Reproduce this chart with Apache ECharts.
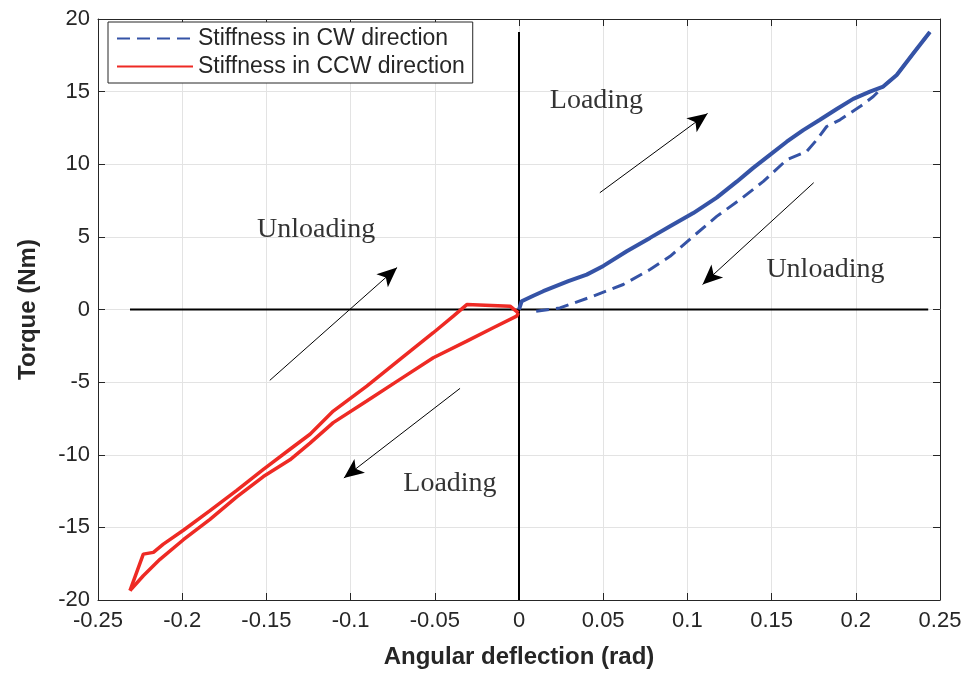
<!DOCTYPE html>
<html><head><meta charset="utf-8">
<script src="https://cdn.jsdelivr.net/npm/echarts@6/dist/echarts.min.js"></script>
<style>html,body{margin:0;padding:0;background:#fff}#c{width:972px;height:674px}</style>
</head><body><div id="c"></div>
<script>
// CW (blue) loading branch: [angle rad, torque Nm]
const cwLoading = [[0.000,0.0],[0.0016,0.57],[0.0085,0.95],[0.0144,1.26],[0.0293,1.95],[0.0402,2.4],[0.0501,3.0],[0.064,4.01],[0.0778,4.93],[0.0897,5.73],[0.1035,6.64],[0.1174,7.7],[0.1293,8.8],[0.1391,9.75],[0.149,10.65],[0.159,11.55],[0.1688,12.35],[0.1787,13.06],[0.1887,13.8],[0.1985,14.5],[0.2084,15.0],[0.2163,15.35],[0.2243,16.15],[0.2342,17.64],[0.244,19.1]];
// CW (blue) unloading branch
const cwUnloading = [[0.244,19.1],[0.2342,17.64],[0.2243,16.15],[0.2163,15.35],[0.2104,14.66],[0.2025,13.97],[0.1906,13.06],[0.1827,12.6],[0.1768,11.68],[0.1708,10.88],[0.159,10.31],[0.1451,8.82],[0.1312,7.56],[0.1174,6.41],[0.1035,5.04],[0.0897,3.66],[0.0778,2.75],[0.0619,1.72],[0.0441,0.92],[0.0243,0.11],[0.0065,-0.18]];
// CCW (red) loading branch
const ccwLoading = [[-0.0004,-0.23],[-0.0014,-0.46],[-0.0153,-1.26],[-0.031,-2.18],[-0.0509,-3.32],[-0.0707,-4.81],[-0.0904,-6.3],[-0.1103,-7.79],[-0.1241,-9.2],[-0.136,-10.35],[-0.1518,-11.5],[-0.1676,-12.9],[-0.1835,-14.45],[-0.1993,-15.85],[-0.2132,-17.2],[-0.2231,-18.33],[-0.231,-19.36]];
// CCW (red) unloading branch
const ccwUnloading = [[-0.231,-19.36],[-0.2231,-16.84],[-0.2171,-16.72],[-0.2112,-16.15],[-0.1993,-15.2],[-0.1835,-13.85],[-0.1676,-12.45],[-0.1518,-11.0],[-0.136,-9.62],[-0.1241,-8.59],[-0.1103,-6.99],[-0.0904,-5.27],[-0.0707,-3.44],[-0.0509,-1.6],[-0.039,-0.46],[-0.031,0.34],[-0.0053,0.23],[-0.0004,-0.23]];
// reference zero lines
const zeroH = [[-0.231,0],[0.243,0]];
const zeroV = [[0,-20],[0,19.1]];
// annotation arrows [start, end]
const arrows = [
  [[0.048,8.04],[0.112,13.5]],
  [[0.175,8.73],[0.109,1.72]],
  [[-0.148,-4.88],[-0.0724,2.89]],
  [[-0.035,-5.43],[-0.104,-11.6]]
];
// annotation texts [x, y, text]
const notes = [[0.046,14.4,'Loading'],[0.182,2.75,'Unloading'],[-0.1205,5.5,'Unloading'],[-0.041,-11.96,'Loading']];
const seriesNames = ['Stiffness in CW direction','Stiffness in CCW direction'];

const blue = '#3553a6', red = '#ee2a24', axisCol = '#262626';
const fmtX = v => String(+(+v).toFixed(2));
const chart = echarts.init(document.getElementById('c'));
chart.setOption({
  animation:false,
  backgroundColor:'#fff',
  grid:{left:98,right:32,top:19,bottom:73},
  legend:{
    data:seriesNames, orient:'vertical', left:108, top:22,
    padding:[5,8,5,8], itemGap:5, itemWidth:76, itemHeight:14,
    itemStyle:{opacity:0},
    borderColor:axisCol, borderWidth:1, backgroundColor:'#fff',
    textStyle:{fontFamily:'Liberation Sans',fontSize:23,color:axisCol}
  },
  xAxis:[{
    type:'value',min:-0.25,max:0.25,interval:0.05,
    axisLine:{show:true,onZero:false,lineStyle:{color:axisCol,width:1}},
    axisTick:{show:true,inside:true,length:7,lineStyle:{color:axisCol}},
    axisLabel:{formatter:fmtX,fontFamily:'Liberation Sans',fontSize:22,color:axisCol,margin:10},
    splitLine:{show:true,lineStyle:{color:'#e3e3e3',width:1}},
    name:'Angular deflection (rad)',nameLocation:'middle',nameGap:45,
    nameTextStyle:{fontFamily:'Liberation Sans',fontWeight:'bold',fontSize:24,color:axisCol}
  },{
    type:'value',position:'top',min:-0.25,max:0.25,interval:0.05,
    axisLine:{show:true,onZero:false,lineStyle:{color:axisCol}},
    axisTick:{show:true,inside:true,length:7,lineStyle:{color:axisCol}},
    axisLabel:{show:false},splitLine:{show:false}
  }],
  yAxis:[{
    type:'value',min:-20,max:20,interval:5,
    axisLine:{show:true,onZero:false,lineStyle:{color:axisCol,width:1}},
    axisTick:{show:true,inside:true,length:7,lineStyle:{color:axisCol}},
    axisLabel:{fontFamily:'Liberation Sans',fontSize:22,color:axisCol,margin:8},
    splitLine:{show:true,lineStyle:{color:'#e3e3e3',width:1}},
    name:'Torque (Nm)',nameLocation:'middle',nameGap:58,
    nameTextStyle:{fontFamily:'Liberation Sans',fontWeight:'bold',fontSize:24,color:axisCol}
  },{
    type:'value',position:'right',min:-20,max:20,interval:5,
    axisLine:{show:true,onZero:false,lineStyle:{color:axisCol}},
    axisTick:{show:true,inside:true,length:7,lineStyle:{color:axisCol}},
    axisLabel:{show:false},splitLine:{show:false}
  }],
  series:[
    {name:'zeroH',type:'line',data:zeroH,symbol:'none',lineStyle:{color:'#000',width:2},z:1,silent:true},
    {name:'zeroV',type:'line',data:zeroV,symbol:'none',lineStyle:{color:'#000',width:2},z:1,silent:true,
     markLine:{silent:true,symbol:['none','arrow'],symbolSize:[13,20],label:{show:false},
       lineStyle:{color:'#000',width:1,type:'solid'},itemStyle:{color:'#000'},
       data:arrows.map(a=>[{coord:a[0]},{coord:a[1]}])}},
    {name:seriesNames[0],type:'line',data:cwUnloading,symbol:'none',itemStyle:{color:blue},
     lineStyle:{color:blue,width:3,type:[13,7]},z:3},
    {name:'cwLoad',type:'line',data:cwLoading,symbol:'none',itemStyle:{color:blue},
     lineStyle:{color:blue,width:4},z:3},
    {name:seriesNames[1],type:'line',data:ccwLoading,symbol:'none',itemStyle:{color:red},
     lineStyle:{color:red,width:3.5},z:3},
    {name:'ccwUnload',type:'line',data:ccwUnloading,symbol:'none',itemStyle:{color:red},
     lineStyle:{color:red,width:3.5},z:3},
    {name:'notes',type:'scatter',data:notes,symbolSize:1,itemStyle:{color:'rgba(0,0,0,0)'},z:4,silent:true,
     label:{show:true,position:'inside',formatter:p=>p.value[2],fontFamily:'Liberation Serif',fontSize:28,color:'#000'}}
  ]
});
</script></body></html>
